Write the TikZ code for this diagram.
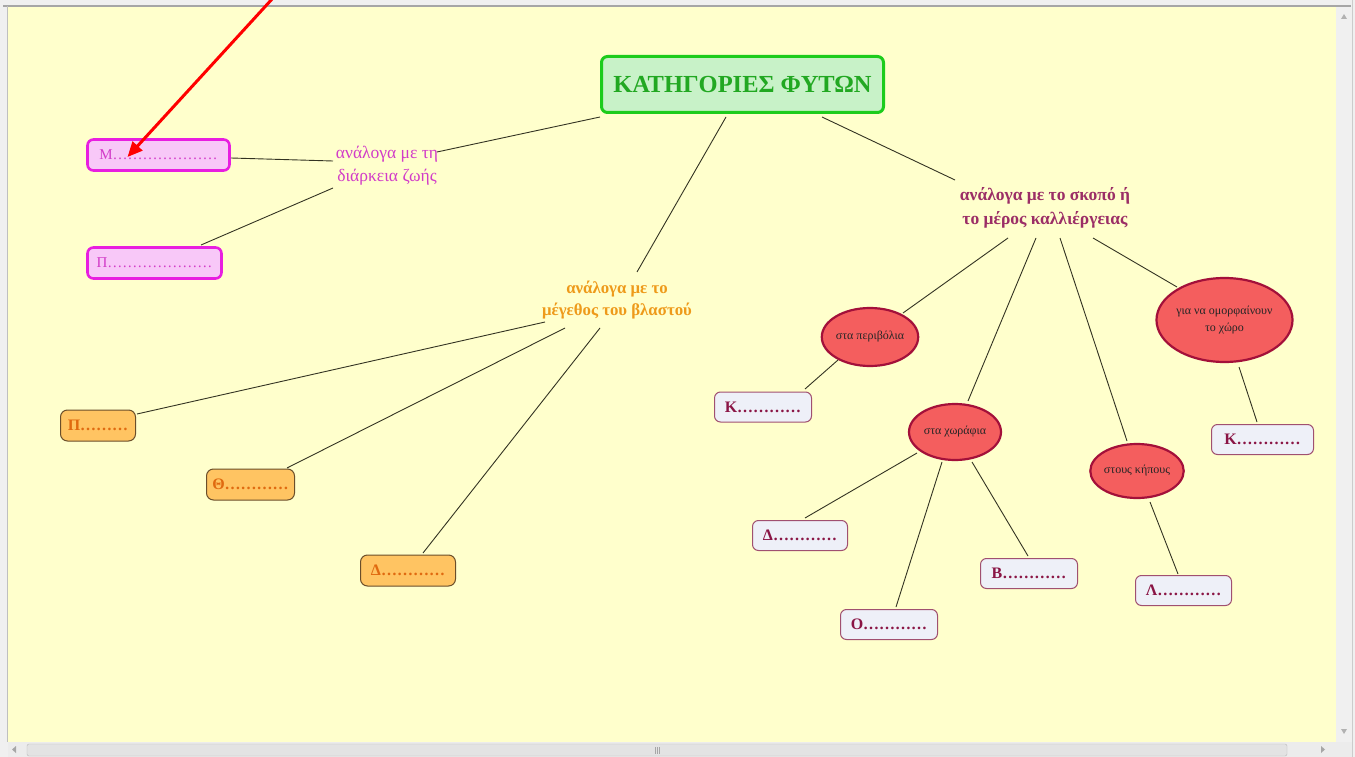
\documentclass[tikz,border=0pt]{standalone}
\usepackage{fontspec}
\setmainfont{Liberation Serif}
\usetikzlibrary{shapes.geometric,arrows.meta,calc}
\definecolor{bgyel}{HTML}{FFFFCC}
\definecolor{frame}{HTML}{F0F0F0}
\definecolor{ttlfill}{HTML}{C8F2C8}
\definecolor{ttldraw}{HTML}{1CCC1C}
\definecolor{ttltext}{HTML}{22A822}
\definecolor{magdraw}{HTML}{E81EE0}
\definecolor{magfill}{HTML}{F8C8F8}
\definecolor{magtext}{HTML}{D23CC8}
\definecolor{oratext}{HTML}{EE9A1A}
\definecolor{orafill}{HTML}{FFC462}
\definecolor{oradraw}{HTML}{6B4E2A}
\definecolor{oraboxtext}{HTML}{E06A10}
\definecolor{purtext}{HTML}{9B2E66}
\definecolor{ellfill}{HTML}{F45E5E}
\definecolor{elldraw}{HTML}{A3103A}
\definecolor{wbfill}{HTML}{EEF0F8}
\definecolor{wbdraw}{HTML}{A05070}
\definecolor{wbtext}{HTML}{8A1545}
\definecolor{linecol}{HTML}{333322}
\begin{document}
\begin{tikzpicture}[x=1pt,y=-1pt,
  ttl/.style={draw=ttldraw,line width=3pt,fill=ttlfill,rounded corners=6pt,
    text=ttltext,font=\fontsize{24.5}{28}\selectfont\bfseries,minimum width=282pt,minimum height=56pt},
  lab/.style={align=center,inner sep=0pt},
  magbox/.style={draw=magdraw,line width=2.6pt,fill=magfill,rounded corners=6pt,
    text=magtext,font=\fontsize{15}{18}\selectfont,minimum height=31pt},
  orabox/.style={draw=oradraw,line width=1pt,fill=orafill,rounded corners=7pt,
    text=oraboxtext,font=\fontsize{16}{19}\selectfont\bfseries,minimum height=31pt},
  ell/.style={ellipse,draw=elldraw,line width=2.2pt,fill=ellfill,inner sep=0pt,
    align=center,font=\fontsize{12}{17}\selectfont,text=black!85},
  wbox/.style={draw=wbdraw,line width=1pt,fill=wbfill,rounded corners=6pt,
    text=wbtext,font=\fontsize{16}{19}\selectfont\bfseries,minimum height=30pt},
  conn/.style={draw=linecol,line width=0.9pt}
]
\useasboundingbox (0,0) rectangle (1355,757);
\clip (0,0) rectangle (1355,757);
% window frame
\fill[frame] (0,0) rectangle (1355,757);
\fill[bgyel] (8,7) rectangle (1336,742);
\draw[gray!70,line width=1.5pt] (3,6) -- (1351,6);
\draw[gray!50,line width=0.6pt] (7.5,6) -- (7.5,742);
\fill[gray!12] (1336,7) rectangle (1352,742);
\draw[gray!40] (1352.5,0) -- (1352.5,757);
\fill[gray!60] (1341,19) -- (1347,19) -- (1344,14) -- cycle;
\fill[gray!60] (1341,729) -- (1347,729) -- (1344,734) -- cycle;
\fill[gray!15] (8,742) rectangle (1352,757);
\draw[gray!55,fill=gray!22,rounded corners=2pt] (27,744) rectangle (1287,756);
\draw[gray!70] (655,747) -- (655,754) (657,747) -- (657,754) (659,747) -- (659,754);
\fill[gray!70] (16,746) -- (16,753) -- (12,749.5) -- cycle;
\fill[gray!70] (1321,746) -- (1321,753) -- (1325,749.5) -- cycle;

% nodes
\node[ttl] (title) at (742.5,84.5) {ΚΑΤΗΓΟΡΙΕΣ ΦΥΤΩΝ};

\node[lab,text=magtext,font=\fontsize{17.5}{23}\selectfont] (lab1) at (387,166) {ανάλογα με τη\\διάρκεια ζωής};
\node[magbox,minimum width=142pt] (M) at (158.5,155) {Μ…………………};
\node[magbox,minimum width=134pt] (P1) at (154.5,263) {Π…………………};

\node[lab,text=oratext,font=\fontsize{16.8}{22}\selectfont\bfseries] (lab2) at (617,300) {ανάλογα με το\\μέγεθος του βλαστού};
\node[orabox,minimum width=75pt] (P2) at (98,425.5) {Π………};
\node[orabox,minimum width=88pt] (Th) at (250.5,484.5) {Θ…………};
\node[orabox,minimum width=95pt] (D1) at (408,570.5) {Δ…………};

\node[lab,text=purtext,font=\fontsize{17.5}{24}\selectfont\bfseries] (lab3) at (1045,208) {ανάλογα με το σκοπό ή\\το μέρος καλλιέργειας};
\node[ell,minimum width=92pt,minimum height=58pt] (e1) at (870,337) {στα περιβόλια};
\node[ell,minimum width=92pt,minimum height=56pt] (e2) at (955,432) {στα χωράφια};
\node[ell,minimum width=92pt,minimum height=54pt] (e3) at (1137,471) {στους κήπους};
\node[ell,minimum width=131pt,minimum height=84pt] (e4) at (1224.5,320) {για να ομορφαίνουν\\το χώρο};

\node[wbox,minimum width=97pt] (K1) at (763,407) {Κ…………};
\node[wbox,minimum width=95pt] (D2) at (800,535.5) {Δ…………};
\node[wbox,minimum width=97pt] (O) at (889,624.5) {Ο…………};
\node[wbox,minimum width=97pt] (B) at (1029,573.5) {Β…………};
\node[wbox,minimum width=96pt] (L) at (1183.5,590.5) {Λ…………};
\node[wbox,minimum width=102pt] (K2) at (1262.5,439.5) {Κ…………};

% connectors
\draw[conn] ($(title)+(-142.5,32.5)$) -- ($(lab1)+(50,-14)$);
\draw[conn] ($(lab1)+(-54,-5)$) -- ($(M)+(72.5,3)$);
\draw[conn] ($(lab1)+(-54,22)$) -- ($(P1)+(46.5,-18)$);
\draw[conn] ($(title)+(-16.5,32.5)$) -- ($(lab2)+(20,-28)$);
\draw[conn] ($(lab2)+(-72,22)$) -- ($(P2)+(39,-11.5)$);
\draw[conn] ($(lab2)+(-52,28)$) -- ($(Th)+(36.5,-16.5)$);
\draw[conn] ($(lab2)+(-17,28)$) -- ($(D1)+(15,-17.5)$);
\draw[conn] ($(title)+(79.5,32.5)$) -- ($(lab3)+(-90,-28)$);
\draw[conn] ($(lab3)+(-37,30)$) -- ($(e1)+(33,-24)$);
\draw[conn] ($(lab3)+(-9,30)$) -- ($(e2)+(13,-31)$);
\draw[conn] ($(lab3)+(15,30)$) -- ($(e3)+(-10,-30)$);
\draw[conn] ($(lab3)+(48,30)$) -- ($(e4)+(-47.5,-33)$);
\draw[conn] ($(e1)+(-32,23)$) -- ($(K1)+(42,-18)$);
\draw[conn] ($(e2)+(-38,21)$) -- ($(D2)+(5,-17.5)$);
\draw[conn] ($(e2)+(-13,30)$) -- ($(O)+(7,-17.5)$);
\draw[conn] ($(e2)+(17,30)$) -- ($(B)+(-1,-17.5)$);
\draw[conn] ($(e3)+(13,31)$) -- ($(L)+(-5.5,-16.5)$);
\draw[conn] ($(e4)+(14.5,47)$) -- ($(K2)+(-5.5,-17.5)$);

% red arrow
\coordinate (arrS) at (273,-2);
\draw[red,line width=3pt,-{Triangle[length=15pt,width=13pt]}] (arrS) -- ($(M)+(-31,2)$);
\end{tikzpicture}
\end{document}
